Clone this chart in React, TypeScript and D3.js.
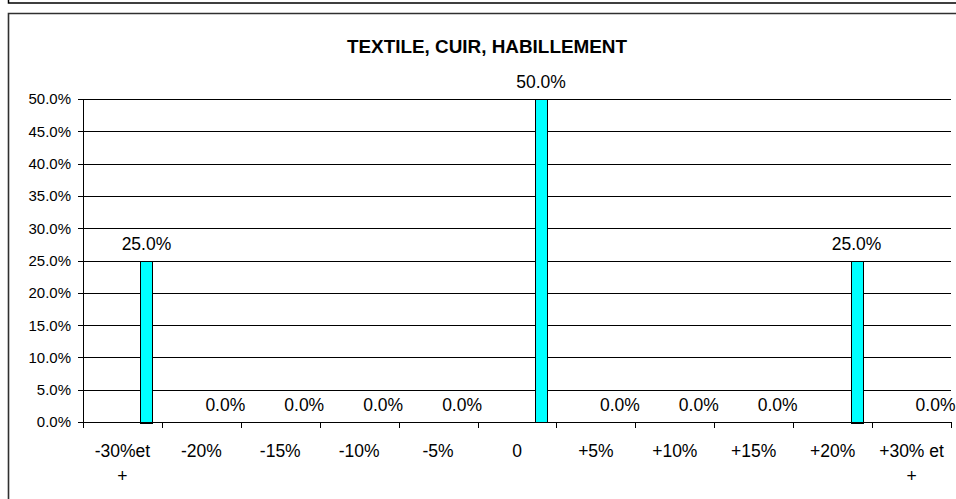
import React from "react";
import * as d3 from "d3";

const categories: string[] = ["-30%et\n+", "-20%", "-15%", "-10%", "-5%", "0", "+5%", "+10%", "+15%", "+20%", "+30% et\n+"];
const values: number[] = [25, 0, 0, 0, 0, 50, 0, 0, 0, 25, 0];
const yTicks: number[] = [0, 5, 10, 15, 20, 25, 30, 35, 40, 45, 50];
const title = "TEXTILE, CUIR, HABILLEMENT";

const W = 956;
const H = 499;
const M = { left: 83, right: 951, top: 99, bottom: 422 };
const FONT = "'Liberation Sans', Arial, sans-serif";

export default function App() {
  const x = d3.scaleBand<string>().domain(categories).range([M.left, M.right]).padding(0);
  const y = d3.scaleLinear().domain([0, 50]).range([M.bottom, M.top]);
  const slots = d3.scaleBand<number>().domain(d3.range(5)).range([0, x.bandwidth()]).paddingInner(0).paddingOuter(0.79);
  const slot = 4;
  const fmt = (v: number) => d3.format(".1f")(v) + "%";
  const boundaries = categories.map((c) => x(c) as number).concat([M.right]);

  return (
    <svg width={W} height={H} style={{ position: "absolute", left: 0, top: 0, background: "#fff" }} fontFamily={FONT}>
      <rect x={0} y={0} width={W} height={H} fill="#fff" />
      {/* frame of previous chart */}
      <path d={`M8.5,0 V3 H${W}`} fill="none" stroke="#000" strokeWidth={1.5} />
      {/* chart frame */}
      <path d={`M${W},13.5 H8.5 V${H}`} fill="none" stroke="#303030" strokeWidth={1.6} />
      <text x={487} y={52.5} textAnchor="middle" fontWeight="bold" fontSize={17.5} textLength={280} lengthAdjust="spacingAndGlyphs">
        {title}
      </text>
      {/* gridlines */}
      {yTicks.map((t) => (
        <g key={t}>
          <line x1={M.left} x2={M.right} y1={Math.round(y(t)) + 0.5} y2={Math.round(y(t)) + 0.5} stroke="#000" strokeWidth={1} />
          <line x1={M.left - 5} x2={M.left} y1={Math.round(y(t)) + 0.5} y2={Math.round(y(t)) + 0.5} stroke="#000" />
          <text x={M.left - 12} y={y(t)} dy="0.36em" textAnchor="end" fontSize={15}>
            {fmt(t)}
          </text>
        </g>
      ))}
      {/* y axis */}
      <line x1={M.left + 0.5} x2={M.left + 0.5} y1={M.top} y2={M.bottom + 0.5} stroke="#000" />
      {/* x ticks */}
      {boundaries.map((b, i) => (
        <line key={i} x1={Math.round(b) + 0.5} x2={Math.round(b) + 0.5} y1={M.bottom} y2={M.bottom + 6} stroke="#000" />
      ))}
      {/* bars */}
      {categories.map((c, i) => {
        const bx = (x(c) as number) + (slots(slot) as number);
        const v = values[i];
        const yTop = y(v);
        return (
          <g key={c}>
            {v > 0 && (
              <rect x={Math.round(bx) + 0.5} y={Math.round(yTop) + 0.5} width={Math.round(slots.bandwidth())} height={Math.round(y(0) - yTop)} fill="#00FFFF" stroke="#000" strokeWidth={1} />
            )}
            <text x={bx + slots.bandwidth() / 2} y={yTop - 11} textAnchor="middle" fontSize={17.5}>
              {fmt(v)}
            </text>
          </g>
        );
      })}
      {/* x axis */}
      <line x1={M.left} x2={M.right} y1={M.bottom + 0.5} y2={M.bottom + 0.5} stroke="#000" />
      {categories.map((c) => {
        const lines = c.split("\n");
        const cx = (x(c) as number) + x.bandwidth() / 2;
        return (
          <text key={c} x={cx} y={456.5} textAnchor="middle" fontSize={17.5}>
            {lines.map((l, j) => (
              <tspan key={j} x={cx} dy={j === 0 ? 0 : 25}>
                {l}
              </tspan>
            ))}
          </text>
        );
      })}
    </svg>
  );
}
